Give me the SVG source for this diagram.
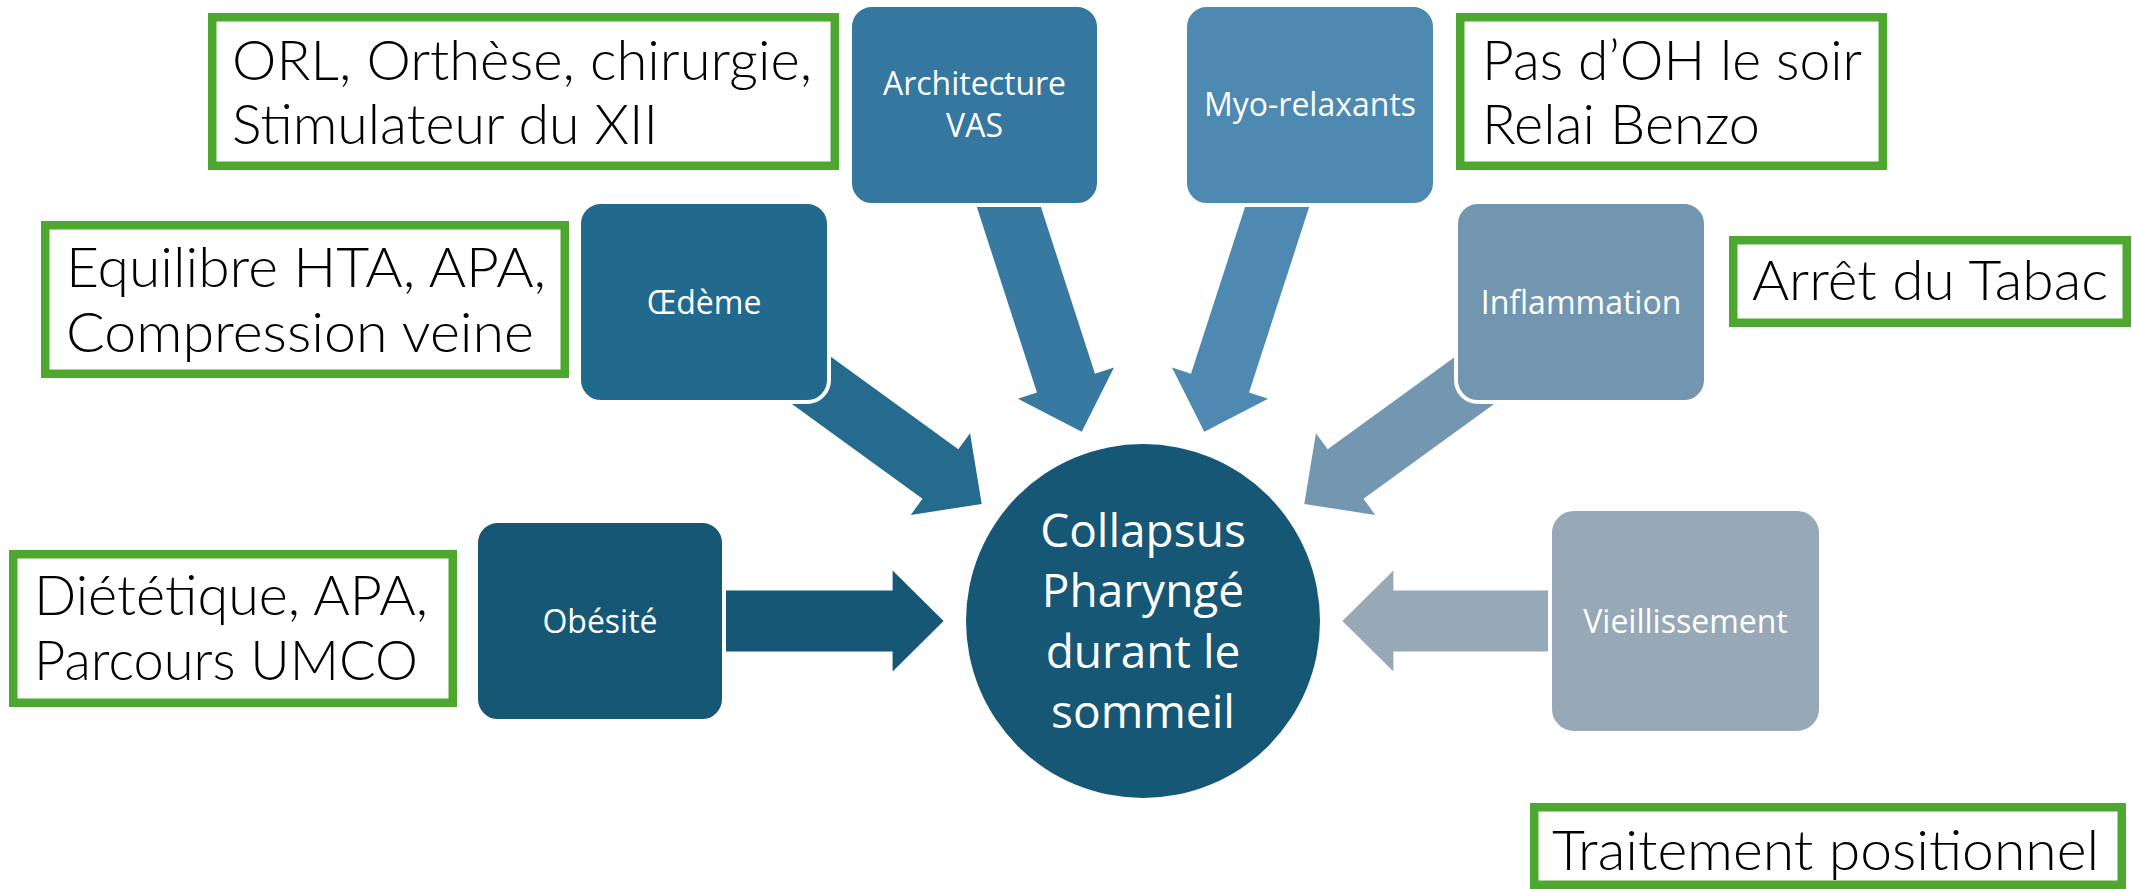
<svg xmlns="http://www.w3.org/2000/svg" width="2132" height="889" viewBox="0 0 2132 889">
<style>
.note{fill:#FFFFFF;stroke:#4EA72E;stroke-width:8.5}
.nt{font-family:Lato,"Liberation Sans",sans-serif;font-weight:300;font-size:56px;fill:#000000}
.node{stroke:#FFFFFF;stroke-width:4}
.lbl{font-family:"Open Sans","Liberation Sans",sans-serif;font-size:32px;fill:#FFFFFF;text-anchor:middle}
.big{font-family:"Open Sans","Liberation Sans",sans-serif;font-size:46px;fill:#FFFFFF;text-anchor:middle}
</style>
<defs>
<polygon id="a244" points="-244,-30.5 -51,-30.5 -51,-50.5 0,0 -51,50.5 -51,30.5 -244,30.5"/>
<polygon id="a228" points="-228,-30.5 -51,-30.5 -51,-50.5 0,0 -51,50.5 -51,30.5 -228,30.5"/>
<polygon id="a220" points="-220,-30.5 -51,-30.5 -51,-50.5 0,0 -51,50.5 -51,30.5 -220,30.5"/>
<polygon id="a255" points="-255,-30.5 -51,-30.5 -51,-50.5 0,0 -51,50.5 -51,30.5 -255,30.5"/>
</defs>
<rect width="2132" height="889" fill="#FFFFFF"/>

<g id="connectors">
<use href="#a244" fill="#155775" transform="translate(943.6,621)"/>
<use href="#a228" fill="#97A8B6" transform="translate(1342.4,621) rotate(180)"/>
<use href="#a220" fill="#246B8E" transform="translate(981.7,504) rotate(35.96)"/>
<use href="#a220" fill="#7397B1" transform="translate(1304.3,504) rotate(144.04)"/>
<use href="#a255" fill="#3879A2" transform="translate(1081.7,431.7) rotate(72.05)"/>
<use href="#a255" fill="#4D89B0" transform="translate(1204.3,431.7) rotate(107.95)"/>
</g>

<g id="node-architecture">
<rect class="node" x="850" y="5" width="249" height="200" rx="22" fill="#3677A0"/>
<text class="lbl" x="974.5" y="95">Architecture</text>
<text class="lbl" x="974.5" y="137">VAS</text>
</g>
<g id="node-myo">
<rect class="node" x="1185" y="5" width="250" height="200" rx="22" fill="#4D89B0"/>
<text class="lbl" x="1310" y="116">Myo-relaxants</text>
</g>
<g id="node-oedeme">
<rect class="node" x="579" y="202" width="250" height="200" rx="22" fill="#226A8D"/>
<text class="lbl" x="704" y="314">Œdème</text>
</g>
<g id="node-inflammation">
<rect class="node" x="1456" y="202" width="250" height="200" rx="22" fill="#7296B0"/>
<text class="lbl" x="1581" y="314">Inflammation</text>
</g>
<g id="node-obesite">
<rect class="node" x="476" y="521" width="248" height="200" rx="22" fill="#155775"/>
<text class="lbl" x="600" y="633">Obésité</text>
</g>
<g id="node-vieillissement">
<rect class="node" x="1550" y="509" width="271" height="224" rx="24" fill="#97A8B6"/>
<text class="lbl" x="1685.5" y="633">Vieillissement</text>
</g>
<g id="node-collapsus">
<circle cx="1143" cy="621" r="177" fill="#155775"/>
<text class="big" x="1143" y="547">Collapsus</text>
<text class="big" x="1143" y="607">Pharyngé</text>
<text class="big" x="1143" y="668">durant le</text>
<text class="big" x="1143" y="728">sommeil</text>
</g>

<g id="note-orl">
<rect class="note" x="212.25" y="17.25" width="622.5" height="148.5"/>
<text class="nt" x="232" y="80" textLength="580" lengthAdjust="spacingAndGlyphs">ORL, Orthèse, chirurgie,</text>
<text class="nt" x="232" y="144" textLength="426" lengthAdjust="spacingAndGlyphs">Stimulateur du XII</text>
</g>
<g id="note-oh">
<rect class="note" x="1460.25" y="17.25" width="422.5" height="148.5"/>
<text class="nt" x="1482" y="80" textLength="380" lengthAdjust="spacingAndGlyphs">Pas d’OH le soir</text>
<text class="nt" x="1482" y="144" textLength="278" lengthAdjust="spacingAndGlyphs">Relai Benzo</text>
</g>
<g id="note-equilibre">
<rect class="note" x="45.25" y="225.25" width="519.5" height="148.5"/>
<text class="nt" x="66" y="287" textLength="480" lengthAdjust="spacingAndGlyphs">Equilibre HTA, APA,</text>
<text class="nt" x="66" y="352" textLength="468" lengthAdjust="spacingAndGlyphs">Compression veine</text>
</g>
<g id="note-tabac">
<rect class="note" x="1733.25" y="240.25" width="393.5" height="82.5"/>
<text class="nt" x="1752" y="300" textLength="356" lengthAdjust="spacingAndGlyphs">Arrêt du Tabac</text>
</g>
<g id="note-dietetique">
<rect class="note" x="13.25" y="554.25" width="439.5" height="148.5"/>
<text class="nt" x="34" y="615" textLength="394" lengthAdjust="spacingAndGlyphs">Diététique, APA,</text>
<text class="nt" x="34" y="680" textLength="384" lengthAdjust="spacingAndGlyphs">Parcours UMCO</text>
</g>
<g id="note-positionnel">
<rect class="note" x="1534.25" y="807.25" width="587.5" height="77.5"/>
<text class="nt" x="1552" y="870" textLength="547" lengthAdjust="spacingAndGlyphs">Traitement positionnel</text>
</g>
</svg>
